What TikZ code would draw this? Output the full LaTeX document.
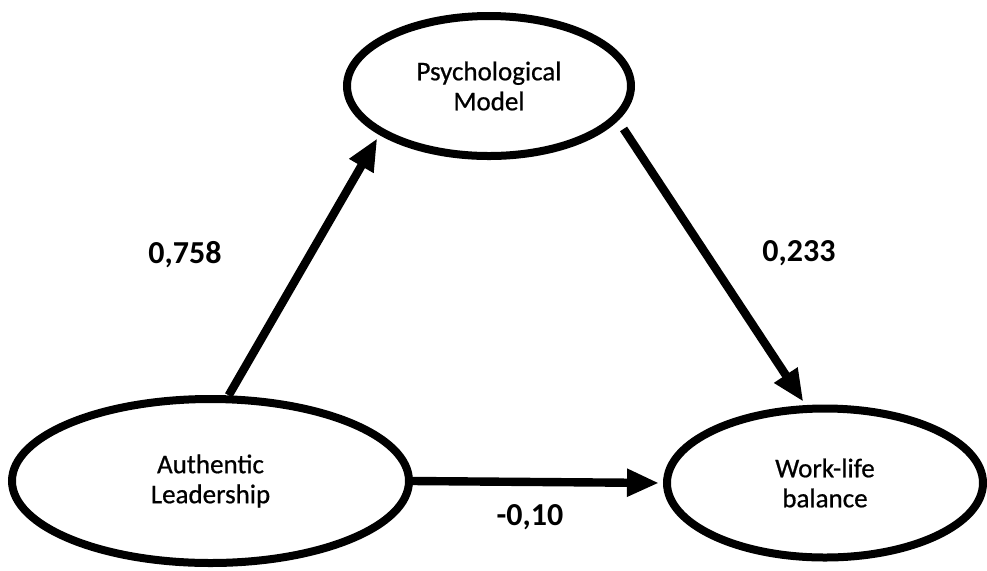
\documentclass[tikz,border=0pt]{standalone}
\usepackage{fontspec}
\setmainfont{Carlito}
\newfontfamily\latentfont{Carlito}[FakeBold=0.7]
\usetikzlibrary{shapes.geometric,arrows.meta}
\begin{document}
\begin{tikzpicture}[x=0.5pt, y=-0.5pt,
		latent/.style={ellipse, draw, line width=4pt, align=center, inner sep=0pt, font=\latentfont\fontsize{13.5}{15}\selectfont},
		chemin/.style={line width=4.2pt, shorten >=2pt, -{Triangle[length=16pt, width=13pt]}},
		coef/.style={font=\fontsize{16}{19}\selectfont\bfseries}]
		\useasboundingbox (0,0) rectangle (987,570);
		%Variables latentes
		\node[latent, minimum width=142pt, minimum height=70pt] (PM) at (489,86) {Psychological\\Model};
		\node[latent, minimum width=198.5pt, minimum height=82pt] (AL) at (210.5,481) {Authentic\\Leadership};
		\node[latent, minimum width=158pt, minimum height=74.5pt] (WLB) at (825,483) {Work-life\\balance};
		%Coefficients
		\node[coef] (c1) at (185,255) {0,758};
		\node[coef] (c2) at (799,253) {0,233};
		\node[coef] (c3) at (530,517) {-0,10};
		%Chemins
		\draw[chemin] (AL.78) -- (PM.204);
		\draw[chemin, shorten <=5pt] (PM.-15) -- (WLB.104);
		\draw[chemin] (AL.east) -- (WLB.west);
\end{tikzpicture}
\end{document}
